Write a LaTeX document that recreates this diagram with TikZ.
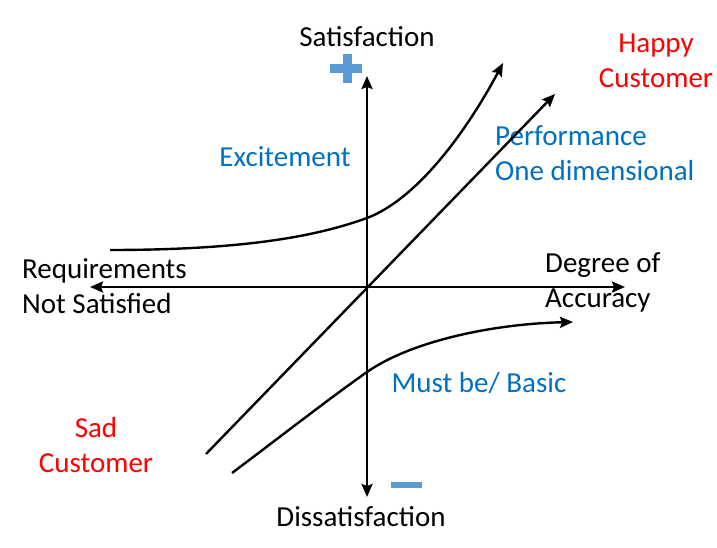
\documentclass[tikz,border=0pt]{standalone}
\usepackage{fontspec}
\setmainfont{Carlito}
\usetikzlibrary{arrows.meta}
\definecolor{kanoblue}{HTML}{0070C0}
\definecolor{signblue}{HTML}{5B9BD5}
\definecolor{kanored}{HTML}{FF0000}

\begin{document}
\begin{tikzpicture}[x=1pt,y=-1pt]
\useasboundingbox (0,0) rectangle (717,548);

% axes ends and curve ends
\coordinate (O) at (367,287);
\coordinate (top) at (367,76);
\coordinate (bottom) at (367,497);
\coordinate (left) at (90,287);
\coordinate (right) at (625,287);
\coordinate (perfA) at (206,454);
\coordinate (perfB) at (555,94);
\coordinate (excA) at (110,250);
\coordinate (excM) at (367,218);
\coordinate (excB) at (503,63);
\coordinate (mustA) at (232,473);
\coordinate (mustM) at (367,372);
\coordinate (mustB) at (573,322);

\begin{scope}[every node/.style={inner sep=0pt,font=\fontsize{29}{35}\selectfont}]
    \node[anchor=base] (sat) at (367,47) {Satisfaction};
    \node[anchor=base] (dissat) at (361,526) {Dissatisfaction};
    \node[anchor=base west,align=left] (req) at (22,313) {Requirements\\Not Satisfied};
    \node[anchor=base west,align=left] (degree) at (545,307) {Degree of\\Accuracy};
    \node[anchor=base,align=center,text=kanored] (happy) at (656,88) {Happy\\Customer};
    \node[anchor=base,align=center,text=kanored] (sad) at (96,472) {Sad\\Customer};
    \node[anchor=base,text=kanoblue] (excite) at (285,167) {Excitement};
    \node[anchor=base west,align=left,text=kanoblue] (perf) at (495,181) {Performance\\One dimensional};
    \node[anchor=base,text=kanoblue] (must) at (479,392) {Must be/ Basic};
    \end{scope}

% plus and minus signs
\fill[signblue] (330,64) rectangle (362,73);
\fill[signblue] (343,54) rectangle (352,83);
\fill[signblue] (391,482) rectangle (422,488);

\begin{scope}[>={Stealth[length=13pt,width=11pt,inset=2pt]},
              every edge/.style={draw=black,line width=2.4pt}]
    \path [<->] (bottom) edge (top);
    \path [<->] (left) edge (right);
    \path [->] (perfA) edge (perfB);
    \draw [->,line width=2.4pt] (excA) .. controls (250,250) and (320,235) .. (excM)
        .. controls (420,198) and (470,125) .. (excB);
    \draw [->,line width=2.4pt] (mustA) .. controls (280,437) and (330,398) .. (mustM)
        .. controls (410,342) and (490,324) .. (mustB);
    \end{scope}

\end{tikzpicture}
\end{document}
